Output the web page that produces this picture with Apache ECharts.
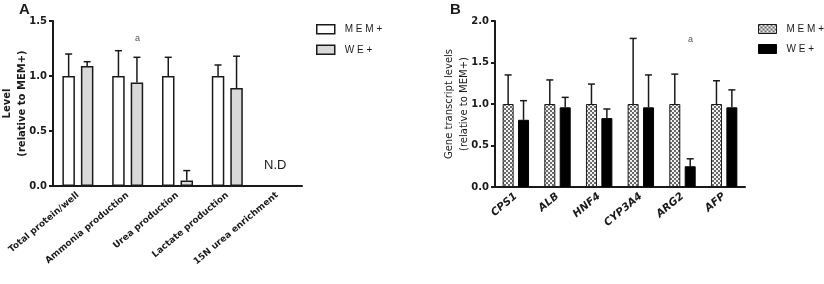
<!DOCTYPE html>
<html>
<head>
<meta charset="utf-8">
<script src="https://cdn.jsdelivr.net/npm/echarts@6/dist/echarts.min.js"></script>
<style>
  html, body { margin: 0; padding: 0; background: #fff; }
  #main { width: 824px; height: 284px; }
</style>
</head>
<body>
<div id="main"></div>
<script>
// panel A
var catsA = ['Total protein/well', 'Ammonia production', 'Urea production', 'Lactate production', '15N urea enrichment'];
var memA = [1.0, 1.0, 1.0, 1.0, null];
var memErrA = [1.20, 1.23, 1.17, 1.10, null];
var weA = [1.09, 0.94, 0.05, 0.89, null];
var weErrA = [1.13, 1.17, 0.14, 1.18, null];
var ticksA = [0, 0.5, 1.0, 1.5];

// panel B
var catsB = ['CPS1', 'ALB', 'HNF4', 'CYP3A4', 'ARG2', 'AFP'];
var memB = [1.0, 1.0, 1.0, 1.0, 1.0, 1.0];
var memErrB = [1.35, 1.29, 1.24, 1.79, 1.36, 1.28];
var weB = [0.81, 0.96, 0.83, 0.96, 0.25, 0.96];
var weErrB = [1.04, 1.08, 0.94, 1.35, 0.34, 1.17];
var ticksB = [0, 0.5, 1.0, 1.5, 2.0];

var FONT = 'DejaVu Sans';
var INK = '#1a1a1a';

// checkered fill for MEM+ in panel B
var pc = document.createElement('canvas');
pc.width = 4; pc.height = 4;
var pctx = pc.getContext('2d');
pctx.fillStyle = '#f2f2f2'; pctx.fillRect(0, 0, 4, 4);
pctx.fillStyle = '#6a6a6a'; pctx.fillRect(0, 0, 2, 2); pctx.fillRect(2, 2, 2, 2);
var checker = { image: pc, repeat: 'repeat' };

var bwA = 12.5, gapA = 0.48;
var bwB = 11, gapB = 0.40;

function spaced(s) { return s.split('').join(' '); }

function errSeries(xi, vals, tops, offset) {
  var d = [];
  vals.forEach(function (v, i) { if (v != null) d.push([i, v, tops[i]]); });
  return {
    type: 'custom', xAxisIndex: xi, yAxisIndex: xi, silent: true, z: 1,
    encode: { x: 0, y: [1, 2] },
    data: d,
    renderItem: function (params, api) {
      var b = api.coord([api.value(0), api.value(1)]);
      var t = api.coord([api.value(0), api.value(2)]);
      var x = b[0] + offset;
      var st = { stroke: INK, lineWidth: 1.5 };
      return { type: 'group', children: [
        { type: 'line', shape: { x1: x, y1: b[1], x2: x, y2: t[1] }, style: st },
        { type: 'line', shape: { x1: x - 3.5, y1: t[1], x2: x + 3.5, y2: t[1] }, style: st }
      ] };
    }
  };
}

function yAxisFor(gi, max, name, bold, gap) {
  return {
    gridIndex: gi, type: 'value', min: 0, max: max, interval: 0.5,
    name: name, nameLocation: 'middle', nameGap: gap, nameRotate: 90, nameMoveOverlap: false,
    nameTextStyle: { fontFamily: FONT, fontSize: 10, fontWeight: bold ? 'bold' : 'normal', color: INK, lineHeight: 15, align: 'center' },
    axisLine: { show: true, lineStyle: { color: INK, width: 2 } },
    axisTick: { show: true, length: 4, lineStyle: { color: INK, width: 2 } },
    axisLabel: { fontFamily: FONT, fontSize: 10, fontWeight: 'bold', color: INK, margin: 6,
      formatter: function (v) { return v.toFixed(1); } },
    splitLine: { show: false }
  };
}

function xAxisFor(gi, cats, italic, size) {
  return {
    gridIndex: gi, type: 'category', data: cats,
    axisLine: { lineStyle: { color: INK, width: 2 } },
    axisTick: { alignWithLabel: true, length: 4, lineStyle: { color: INK, width: 2 } },
    axisLabel: { rotate: 40, interval: 0, margin: 8, fontFamily: FONT, fontSize: size,
      fontWeight: 'bold', fontStyle: italic ? 'italic' : 'normal', color: INK }
  };
}

var offA = bwA * (1 + gapA) / 2;
var offB = bwB * (1 + gapB) / 2;

function legendFor(left, memStyle, weStyle) {
  return {
    left: left, top: 24, padding: 0, orient: 'vertical', itemWidth: 18, itemHeight: 9, itemGap: 10, icon: 'rect',
    selectedMode: false, formatter: spaced,
    textStyle: { fontFamily: 'Liberation Sans', fontSize: 10, color: INK, padding: [0, 0, 0, 5] },
    data: [ { name: 'MEM+', itemStyle: memStyle }, { name: 'WE+', itemStyle: weStyle } ]
  };
}

var option = {
  animation: false,
  backgroundColor: '#fff',
  grid: [
    { left: 53, top: 21, width: 249, height: 165, outerBoundsMode: 'none', containLabel: false },
    { left: 495, top: 21, width: 250, height: 166, outerBoundsMode: 'none', containLabel: false }
  ],
  xAxis: [xAxisFor(0, catsA, false, 9), xAxisFor(1, catsB, true, 10.5)],
  yAxis: [
    yAxisFor(0, ticksA[ticksA.length - 1], 'Level\n(relative to MEM+)', true, 23),
    yAxisFor(1, ticksB[ticksB.length - 1], 'Gene transcript levels\n(relative to MEM+)', false, 23)
  ],
  legend: [
    legendFor(316,
      { color: '#fff', borderColor: INK, borderWidth: 1.5 },
      { color: '#d9d9d9', borderColor: INK, borderWidth: 1.5 }),
    legendFor(758,
      { color: checker, borderColor: INK, borderWidth: 1 },
      { color: '#000', borderColor: '#000', borderWidth: 1 })
  ],
  graphic: [
    { type: 'text', left: 19, top: 2, style: { text: 'A', font: 'bold 15px Liberation Sans', fill: INK } },
    { type: 'text', left: 450, top: 2, style: { text: 'B', font: 'bold 15px Liberation Sans', fill: INK } },
    { type: 'text', left: 135, top: 34, style: { text: 'a', font: '9px Liberation Sans', fill: '#555' } },
    { type: 'text', left: 688, top: 35, style: { text: 'a', font: '9px Liberation Sans', fill: '#555' } },
    { type: 'text', left: 264, top: 159, style: { text: 'N.D', font: '13px Liberation Sans', fill: INK } }
  ],
  series: [
    { name: 'MEM+', type: 'bar', xAxisIndex: 0, yAxisIndex: 0, data: memA, barWidth: bwA, barGap: (gapA * 100) + '%',
      itemStyle: { color: '#fff', borderColor: INK, borderWidth: 1.5 }, z: 2 },
    { name: 'WE+', type: 'bar', xAxisIndex: 0, yAxisIndex: 0, data: weA, barWidth: bwA, barGap: (gapA * 100) + '%',
      itemStyle: { color: '#d9d9d9', borderColor: INK, borderWidth: 1.5 }, z: 2 },
    errSeries(0, memA, memErrA, -offA),
    errSeries(0, weA, weErrA, offA),
    { name: 'MEM+', type: 'bar', xAxisIndex: 1, yAxisIndex: 1, data: memB, barWidth: bwB, barGap: (gapB * 100) + '%',
      itemStyle: { color: checker, borderColor: INK, borderWidth: 1 }, z: 2 },
    { name: 'WE+', type: 'bar', xAxisIndex: 1, yAxisIndex: 1, data: weB, barWidth: bwB, barGap: (gapB * 100) + '%',
      itemStyle: { color: '#000', borderColor: '#000', borderWidth: 1 }, z: 2 },
    errSeries(1, memB, memErrB, -offB),
    errSeries(1, weB, weErrB, offB)
  ]
};

var chart = echarts.init(document.getElementById('main'));
chart.setOption(option);
</script>
</body>
</html>
